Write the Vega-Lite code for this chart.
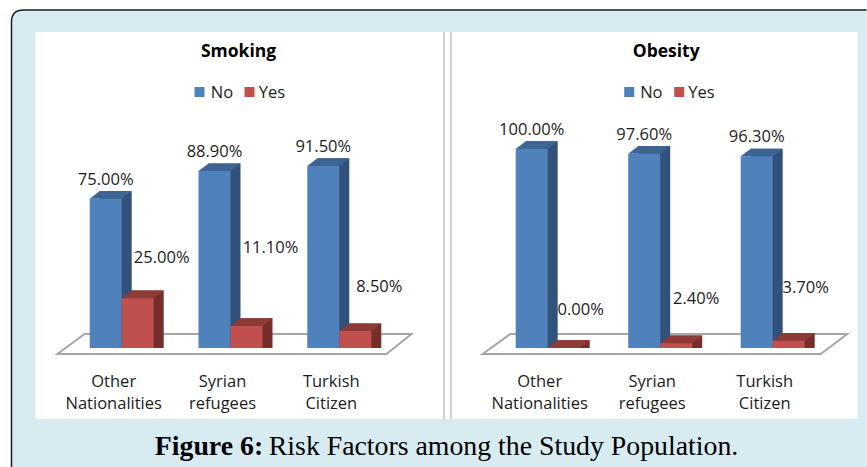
{
  "$schema": "https://vega.github.io/schema/vega-lite/v6.json",
  "width": 867,
  "height": 467,
  "padding": 0,
  "autosize": {"type": "fit", "contains": "padding"},
  "background": "#ffffff",
  "config": {"view": {"stroke": null}, "text": {"font": "Open Sans", "fontSize": 16.5, "color": "#1c1c1c"}},
  "data": {"values": [
    {"panel": "Smoking", "category": "Other Nationalities", "series": "No", "value": 0.75},
    {"panel": "Smoking", "category": "Other Nationalities", "series": "Yes", "value": 0.25},
    {"panel": "Smoking", "category": "Syrian refugees", "series": "No", "value": 0.889},
    {"panel": "Smoking", "category": "Syrian refugees", "series": "Yes", "value": 0.111},
    {"panel": "Smoking", "category": "Turkish Citizen", "series": "No", "value": 0.915},
    {"panel": "Smoking", "category": "Turkish Citizen", "series": "Yes", "value": 0.085},
    {"panel": "Obesity", "category": "Other Nationalities", "series": "No", "value": 1.0},
    {"panel": "Obesity", "category": "Other Nationalities", "series": "Yes", "value": 0.0},
    {"panel": "Obesity", "category": "Syrian refugees", "series": "No", "value": 0.976},
    {"panel": "Obesity", "category": "Syrian refugees", "series": "Yes", "value": 0.024},
    {"panel": "Obesity", "category": "Turkish Citizen", "series": "No", "value": 0.963},
    {"panel": "Obesity", "category": "Turkish Citizen", "series": "Yes", "value": 0.037}
  ]},
  "encoding": {
    "y": {"field": "value", "type": "quantitative", "stack": null, "axis": null, "scale": {"domain": [-0.598, 1.7487], "range": [467, 0], "nice": false, "zero": false}}
  },
  "layer": [
    {
      "transform": [{"filter": "datum.panel === 'Smoking'"}],
      "encoding": {
        "x": {"field": "category", "type": "nominal", "sort": null,
          "scale": {"type": "point", "padding": 0, "domain": ["Other Nationalities", "Syrian refugees", "Turkish Citizen"], "range": [121.7, 339.3]},
          "axis": {"title": null, "orient": "bottom", "offset": -91, "zindex": 1, "domain": false, "ticks": false, "grid": false, "labelAngle": 0, "labelPadding": 0, "labelOffset": -8.5, "labelFont": "Open Sans", "labelFontSize": 16.5, "labelColor": "#1c1c1c", "labelLineHeight": 22.5, "labelLimit": 0, "labelOverlap": false, "labelExpr": "split(datum.label, ' ')"}}
      },
      "layer": [
        {"transform": [{"filter": "datum.category === 'Syrian refugees' && datum.series === 'No'"}],
         "mark": {"type": "point", "filled": true, "opacity": 1, "size": 400, "fill": "#d7ebf1", "strokeWidth": 0, "shape": "M-21.9,11.9L-21.9,-32.6Q-21.9,-33.8,-20.7,-33.8L63.6,-33.8L63.6,11.9Z"},
         "encoding": {"y": {"datum": 0}}},
        {"transform": [{"filter": "datum.category === 'Syrian refugees' && datum.series === 'No'"}],
         "mark": {"type": "point", "filled": false, "opacity": 1, "size": 400, "stroke": "#1f1f1f", "strokeWidth": 1.5, "shape": "M-21.9,11.9L-21.9,-32.6Q-21.9,-33.8,-20.7,-33.8L63.6,-33.8"},
         "encoding": {"y": {"datum": 0}}},
        {"transform": [{"filter": "datum.category === 'Syrian refugees' && datum.series === 'No'"}],
         "mark": {"type": "point", "filled": true, "opacity": 1, "size": 400, "fill": "#ffffff", "strokeWidth": 0, "shape": "M-19.5,-31.6L62.7,-31.6L62.7,7.1L-19.5,7.1Z"},
         "encoding": {"y": {"datum": 0}}},
        {"transform": [{"filter": "datum.category === 'Syrian refugees' && datum.series === 'No'"}],
         "mark": {"type": "point", "filled": false, "opacity": 1, "size": 400, "stroke": "#a3a3a3", "strokeWidth": 1, "shape": "M21.35,-31.6L21.35,7.1M22.05,-31.6L22.05,7.1"},
         "encoding": {"y": {"datum": 0}}},
        {"transform": [{"filter": "datum.category === 'Syrian refugees' && datum.series === 'No'"}],
         "mark": {"type": "point", "filled": true, "opacity": 1, "size": 400, "fill": "#ffffff", "stroke": "#a6a6a6", "strokeWidth": 2, "shape": "M-17.3,0.6L15.6,0.6L18.1,-1.4L-14.6,-1.4Z"},
         "encoding": {"y": {"datum": 0}}},

        {"mark": {"type": "bar", "width": 32, "xOffset": {"expr": "(datum.series === 'No' ? -16 : 16) + 10"}, "yOffset": -7.7, "y2Offset": -7.7, "fill": {"expr": "datum.series === 'No' ? '#33527b' : '#772d2a'"}}},
        {"mark": {"type": "point", "filled": true, "opacity": 1, "size": 400, "strokeWidth": 0, "xOffset": {"expr": "datum.series === 'No' ? -16 : 16"}, "fill": {"expr": "datum.series === 'No' ? '#33527b' : '#772d2a'"}, "shape": "M1.6,0L2.6,-0.77L1.6,-0.77Z"},
         "encoding": {"y": {"datum": 0}}},
        {"mark": {"type": "point", "filled": true, "opacity": 1, "size": 400, "strokeWidth": 0, "xOffset": {"expr": "datum.series === 'No' ? -16 : 16"}, "fill": {"expr": "datum.series === 'No' ? '#3c6594' : '#8e3a37'"}, "shape": "M-1.6,0L1.6,0L2.6,-0.77L-0.6,-0.77Z"}},
        {"mark": {"type": "bar", "width": 32, "xOffset": {"expr": "datum.series === 'No' ? -16 : 16"}},
         "encoding": {"color": {"field": "series", "type": "nominal", "legend": null, "scale": {"domain": ["No", "Yes"], "range": ["#4f81bd", "#c0504d"]}}}},

        {"transform": [{"filter": "datum.series === 'No'"}],
         "mark": {"type": "text", "align": "center", "baseline": "middle", "dx": -16, "dy": -19},
         "encoding": {"text": {"field": "value", "type": "quantitative", "format": ".2%"}}},
        {"transform": [{"filter": "datum.series === 'Yes'"}],
         "mark": {"type": "text", "align": "center", "baseline": "middle", "dx": 40, "dy": {"expr": "{'Other Nationalities': -40, 'Syrian refugees': -78, 'Turkish Citizen': -44}[datum.category]"}},
         "encoding": {"text": {"field": "value", "type": "quantitative", "format": ".2%"}}},

        {"transform": [{"filter": "datum.category === 'Syrian refugees' && datum.series === 'No'"}],
         "mark": {"type": "text", "align": "center", "baseline": "middle", "dx": 8, "fontWeight": "bold", "fontSize": 17.5, "color": "#000000"},
         "encoding": {"y": {"datum": 1.4875}, "text": {"field": "panel", "type": "nominal"}}},
        {"transform": [{"filter": "datum.category === 'Syrian refugees'"}],
         "mark": {"type": "point", "shape": "square", "filled": true, "opacity": 1, "size": 100, "strokeWidth": 0, "xOffset": {"expr": "datum.series === 'No' ? -31 : 19"}},
         "encoding": {"y": {"datum": 1.2864}, "color": {"field": "series", "type": "nominal", "legend": null}}},
        {"transform": [{"filter": "datum.category === 'Syrian refugees'"}],
         "mark": {"type": "text", "align": "left", "baseline": "middle", "dx": {"expr": "datum.series === 'No' ? -19.7 : 28.3"}},
         "encoding": {"y": {"datum": 1.2814}, "text": {"field": "series", "type": "nominal"}}},

        {"transform": [{"filter": "datum.category === 'Syrian refugees' && datum.series === 'No'"}],
         "mark": {"type": "text", "text": "Figure 6:", "align": "left", "baseline": "middle", "dx": -75.7, "font": "Liberation Serif", "fontSize": 27.8, "fontWeight": "bold", "color": "#000000"},
         "encoding": {"y": {"datum": -0.4975}}},
        {"transform": [{"filter": "datum.category === 'Syrian refugees' && datum.series === 'No'"}],
         "mark": {"type": "text", "text": "Risk Factors among the Study Population.", "align": "left", "baseline": "middle", "dx": 38.3, "font": "Liberation Serif", "fontSize": 27.8, "color": "#000000"},
         "encoding": {"y": {"datum": -0.4975}}}
      ]
    },
    {
      "transform": [{"filter": "datum.panel === 'Obesity'"}],
      "encoding": {
        "x": {"field": "category", "type": "nominal", "sort": null,
          "scale": {"type": "point", "padding": 0, "domain": ["Other Nationalities", "Syrian refugees", "Turkish Citizen"], "range": [547.7, 772.7]},
          "axis": {"title": null, "orient": "bottom", "offset": -91, "zindex": 1, "domain": false, "ticks": false, "grid": false, "labelAngle": 0, "labelPadding": 0, "labelOffset": -8.5, "labelFont": "Open Sans", "labelFontSize": 16.5, "labelColor": "#1c1c1c", "labelLineHeight": 22.5, "labelLimit": 0, "labelOverlap": false, "labelExpr": "split(datum.label, ' ')"}}
      },
      "layer": [
        {"transform": [{"filter": "datum.category === 'Syrian refugees' && datum.series === 'No'"}],
         "mark": {"type": "point", "filled": true, "opacity": 1, "size": 400, "fill": "#ffffff", "stroke": "#a6a6a6", "strokeWidth": 2, "shape": "M-17.75,0.6L16.05,0.6L18.7,-1.4L-15,-1.4Z"},
         "encoding": {"y": {"datum": 0}}},

        {"mark": {"type": "bar", "width": 32, "xOffset": {"expr": "(datum.series === 'No' ? -16 : 16) + 10"}, "yOffset": -7.7, "y2Offset": -7.7, "fill": {"expr": "datum.series === 'No' ? '#33527b' : '#772d2a'"}}},
        {"mark": {"type": "point", "filled": true, "opacity": 1, "size": 400, "strokeWidth": 0, "xOffset": {"expr": "datum.series === 'No' ? -16 : 16"}, "fill": {"expr": "datum.series === 'No' ? '#33527b' : (datum.value > 0 ? '#772d2a' : '#8e3a37')"}, "shape": "M1.6,0L2.6,-0.77L1.6,-0.77Z"},
         "encoding": {"y": {"datum": 0}}},
        {"mark": {"type": "point", "filled": true, "opacity": 1, "size": 400, "strokeWidth": 0, "xOffset": {"expr": "datum.series === 'No' ? -16 : 16"}, "fill": {"expr": "datum.series === 'No' ? '#3c6594' : '#8e3a37'"}, "shape": "M-1.6,0L1.6,0L2.6,-0.77L-0.6,-0.77Z"}},
        {"mark": {"type": "bar", "width": 32, "xOffset": {"expr": "datum.series === 'No' ? -16 : 16"}},
         "encoding": {"color": {"field": "series", "type": "nominal", "legend": null}}},

        {"transform": [{"filter": "datum.series === 'No'"}],
         "mark": {"type": "text", "align": "center", "baseline": "middle", "dx": -16, "dy": -19},
         "encoding": {"text": {"field": "value", "type": "quantitative", "format": ".2%"}}},
        {"transform": [{"filter": "datum.series === 'Yes'"}],
         "mark": {"type": "text", "align": "center", "baseline": "middle", "dx": {"expr": "{'Other Nationalities': 33, 'Syrian refugees': 36, 'Turkish Citizen': 33}[datum.category]"}, "dy": {"expr": "{'Other Nationalities': -38, 'Syrian refugees': -44, 'Turkish Citizen': -53}[datum.category]"}},
         "encoding": {"text": {"field": "value", "type": "quantitative", "format": ".2%"}}},

        {"transform": [{"filter": "datum.category === 'Syrian refugees' && datum.series === 'No'"}],
         "mark": {"type": "text", "align": "center", "baseline": "middle", "dx": 6, "fontWeight": "bold", "fontSize": 17.5, "color": "#000000"},
         "encoding": {"y": {"datum": 1.4875}, "text": {"field": "panel", "type": "nominal"}}},
        {"transform": [{"filter": "datum.category === 'Syrian refugees'"}],
         "mark": {"type": "point", "shape": "square", "filled": true, "opacity": 1, "size": 100, "strokeWidth": 0, "xOffset": {"expr": "datum.series === 'No' ? -31 : 19"}},
         "encoding": {"y": {"datum": 1.2864}, "color": {"field": "series", "type": "nominal", "legend": null}}},
        {"transform": [{"filter": "datum.category === 'Syrian refugees'"}],
         "mark": {"type": "text", "align": "left", "baseline": "middle", "dx": {"expr": "datum.series === 'No' ? -20 : 28"}},
         "encoding": {"y": {"datum": 1.2814}, "text": {"field": "series", "type": "nominal"}}}
      ]
    }
  ],
  "resolve": {"scale": {"x": "independent"}}
}
